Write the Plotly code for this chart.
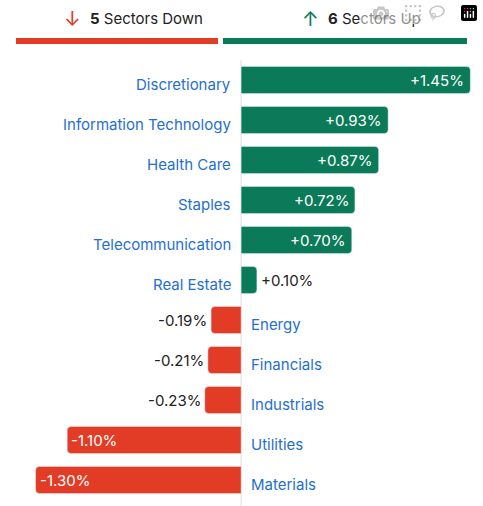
import plotly.graph_objects as go

sectors = ["Discretionary","Information Technology","Health Care","Staples","Telecommunication",
           "Real Estate","Energy","Financials","Industrials","Utilities","Materials"]
values = [1.45,0.93,0.87,0.72,0.70,0.10,-0.19,-0.21,-0.23,-1.10,-1.30]

GREEN = "#0b7a58"; RED = "#e23b26"; BLUE = "#1f6fd1"; FONT = "Inter"
colors = [GREEN if v > 0 else RED for v in values]

fig = go.Figure(go.Bar(x=values, y=sectors, orientation="h", marker_color=colors,
                       width=0.68, hoverinfo="skip"))
fig.update_traces(marker_cornerradius=4)

ann = []
for s, v in zip(sectors, values):
    txt = f"{v:+.2f}%"
    if v > 0:
        ann.append(dict(x=0, y=s, text=s, xanchor="right", xshift=-8, yshift=-4, showarrow=False,
                        font=dict(color=BLUE, size=15, family=FONT)))
        if v > 0.5:
            ann.append(dict(x=v, y=s, text=txt, xanchor="right", xshift=-4, showarrow=False,
                            font=dict(color="white", size=15, family=FONT)))
        else:
            ann.append(dict(x=v, y=s, text=txt, xanchor="left", xshift=2, showarrow=False,
                            font=dict(color="#222", size=15, family=FONT)))
    else:
        ann.append(dict(x=0, y=s, text=s, xanchor="left", xshift=8, yshift=-4, showarrow=False,
                        font=dict(color=BLUE, size=15, family=FONT)))
        if v < -0.5:
            ann.append(dict(x=v, y=s, text=txt, xanchor="left", xshift=2, showarrow=False,
                            font=dict(color="white", size=15, family=FONT)))
        else:
            ann.append(dict(x=v, y=s, text=txt, xanchor="right", xshift=-2, showarrow=False,
                            font=dict(color="#222", size=15, family=FONT)))

n_down = sum(1 for v in values if v < 0)
n_up = sum(1 for v in values if v > 0)
ann += [
    dict(xref="paper", yref="paper", x=62/483, y=1+(60-19)/440, text="↓", showarrow=False,
         font=dict(color=RED, size=20, family=FONT), xanchor="left", yanchor="middle"),
    dict(xref="paper", yref="paper", x=88/483, y=1+(60-19)/440, text=f"<b>{n_down}</b> Sectors Down",
         showarrow=False, font=dict(color="#222", size=15, family=FONT), xanchor="left", yanchor="middle"),
    dict(xref="paper", yref="paper", x=300/483, y=1+(60-19)/440, text="↑", showarrow=False,
         font=dict(color=GREEN, size=20, family=FONT), xanchor="left", yanchor="middle"),
    dict(xref="paper", yref="paper", x=326/483, y=1+(60-19)/440, text=f"<b>{n_up}</b> Sectors Up",
         showarrow=False, font=dict(color="#222", size=15, family=FONT), xanchor="left", yanchor="middle"),
]

yl = 1 + (60-41)/440
shapes = [
    dict(type="line", xref="paper", yref="paper", x0=16/483, x1=218/483, y0=yl, y1=yl,
         line=dict(color=RED, width=6)),
    dict(type="line", xref="paper", yref="paper", x0=223/483, x1=467/483, y0=yl, y1=yl,
         line=dict(color=GREEN, width=6)),
    dict(type="line", xref="x", yref="paper", x0=0, x1=0, y0=-0.02, y1=1,
         line=dict(color="#ddd", width=1), layer="below"),
]

fig.update_layout(width=483, height=506, margin=dict(l=0, r=0, t=60, b=6),
                  plot_bgcolor="white", paper_bgcolor="white", showlegend=False,
                  xaxis=dict(range=[-1.525, 1.53], visible=False, fixedrange=True),
                  yaxis=dict(autorange="reversed", visible=False, fixedrange=True),
                  annotations=ann, shapes=shapes, bargap=0.32)
fig.write_html("out.html")

with open("out.html", encoding="utf-8") as f:
    html = f.read()
html = html.replace("<head>", "<head><style>html,body{margin:0;padding:0;overflow:hidden}</style>", 1)
with open("out.html", "w", encoding="utf-8") as f:
    f.write(html)
